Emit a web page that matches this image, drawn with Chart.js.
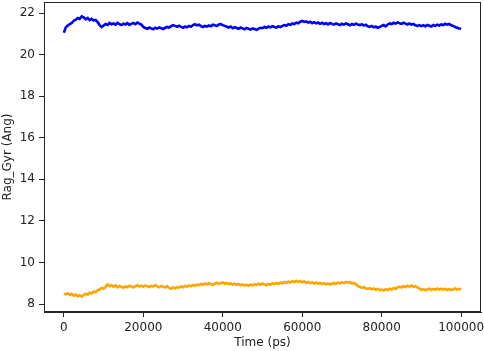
<!DOCTYPE html>
<html>
<head>
<meta charset="utf-8">
<script src="https://cdn.jsdelivr.net/npm/chart.js@4/dist/chart.umd.min.js"></script>
<style>
html,body{margin:0;padding:0;background:#fff;}
#wrap{width:484px;height:351px;position:relative;}
</style>
</head>
<body>
<div id="wrap"><canvas id="c" width="484" height="351"></canvas></div>
<script>
// Sampling: one value every TIME_STEP ps, starting at 0
const TIME_START = 0;
const TIME_STEP = 500;

// Upper trace (blue), Rag_Gyr in Angstrom
const blueSeries = [
  21.05,21.32,21.40,21.47,21.52,21.63,21.68,21.76,21.72,21.84,
  21.79,21.70,21.76,21.66,21.72,21.64,21.67,21.56,21.42,21.33,
  21.40,21.47,21.43,21.52,21.46,21.50,21.44,21.53,21.47,21.42,
  21.49,21.45,21.51,21.43,21.48,21.52,21.46,21.54,21.49,21.44,
  21.33,21.28,21.24,21.30,21.26,21.22,21.29,21.25,21.31,21.27,
  21.23,21.29,21.33,21.30,21.37,21.42,21.38,21.34,21.39,21.33,
  21.29,21.35,21.31,21.38,21.34,21.42,21.46,21.41,21.44,21.37,
  21.33,21.38,21.35,21.40,21.36,21.44,21.41,21.37,21.45,21.47,
  21.42,21.38,21.34,21.30,21.35,21.27,21.32,21.28,21.24,21.30,
  21.26,21.22,21.28,21.24,21.20,21.26,21.23,21.19,21.25,21.29,
  21.27,21.33,21.29,21.35,21.31,21.37,21.33,21.30,21.36,21.32,
  21.38,21.42,21.39,21.46,21.43,21.50,21.47,21.54,21.51,21.58,
  21.62,21.57,21.60,21.54,21.58,21.51,21.56,21.50,21.54,21.48,
  21.53,21.47,21.51,21.45,21.52,21.48,21.44,21.50,21.46,21.42,
  21.48,21.44,21.50,21.46,21.41,21.47,21.43,21.49,21.45,21.42,
  21.46,21.40,21.44,21.36,21.33,21.38,21.31,21.35,21.29,21.33,
  21.38,21.42,21.36,21.45,21.50,21.47,21.53,21.49,21.55,21.51,
  21.48,21.53,21.49,21.45,21.50,21.44,21.47,21.41,21.38,21.42,
  21.37,21.41,21.36,21.43,21.39,21.35,21.42,21.38,21.44,21.40,
  21.45,21.42,21.48,21.44,21.47,21.41,21.38,21.33,21.29,21.26,
  21.24
];

// Lower trace (orange)
const orangeSeries = [
  8.50,8.47,8.52,8.44,8.49,8.41,8.46,8.38,8.43,8.36,
  8.44,8.49,8.45,8.55,8.51,8.60,8.57,8.66,8.70,8.78,
  8.74,8.83,8.95,8.86,8.91,8.84,8.90,8.81,8.87,8.83,
  8.79,8.85,8.81,8.88,8.84,8.80,8.86,8.91,8.85,8.89,
  8.84,8.90,8.86,8.82,8.88,8.84,8.91,8.85,8.81,8.87,
  8.83,8.80,8.86,8.78,8.74,8.80,8.76,8.82,8.79,8.85,
  8.81,8.87,8.84,8.90,8.86,8.92,8.88,8.94,8.91,8.97,
  8.93,8.99,8.95,9.01,8.96,8.92,8.98,9.03,8.97,9.00,
  9.04,8.98,9.02,8.96,9.00,8.94,8.99,8.93,8.97,8.91,
  8.95,8.89,8.93,8.88,8.94,8.90,8.96,8.92,8.98,8.94,
  8.99,8.95,8.91,8.97,8.93,9.00,8.96,9.02,8.97,9.04,
  9.00,9.06,9.02,9.08,9.04,9.10,9.06,9.12,9.07,9.11,
  9.05,9.09,9.03,9.07,9.01,9.05,8.99,9.04,8.98,9.02,
  8.97,9.01,8.95,8.99,8.94,8.98,9.02,8.97,9.03,9.00,
  9.05,9.01,9.07,9.03,9.06,8.99,9.02,8.95,8.88,8.83,
  8.78,8.82,8.76,8.73,8.77,8.71,8.75,8.69,8.73,8.67,
  8.70,8.66,8.72,8.68,8.74,8.70,8.77,8.73,8.80,8.84,
  8.80,8.86,8.82,8.88,8.84,8.89,8.83,8.86,8.80,8.75,
  8.68,8.72,8.66,8.70,8.74,8.68,8.73,8.69,8.75,8.70,
  8.74,8.69,8.73,8.68,8.72,8.67,8.71,8.75,8.70,8.73,
  8.71
];

const xTicks = [0, 20000, 40000, 60000, 80000, 100000];
const yTicks = [8, 10, 12, 14, 16, 18, 20, 22];
const xTitle = 'Time (ps)';
const yTitle = 'Rag_Gyr (Ang)';

const times = blueSeries.map((_, i) => TIME_START + i * TIME_STEP);
const toPoints = arr => arr.map((v, i) => ({x: times[i], y: v}));

const frame = {
  id: 'frame',
  afterDatasetsDraw(chart) {
    const {ctx, chartArea: a} = chart;
    ctx.save();
    ctx.strokeStyle = '#262626';
    ctx.lineWidth = 1;
    ctx.strokeRect(Math.round(a.left) + 0.5, Math.round(a.top) + 0.5,
                   Math.round(a.right - a.left) - 1, Math.round(a.bottom - a.top) - 1);
    ctx.restore();
  }
};

const font = {family: 'DejaVu Sans', size: 12};

new Chart(document.getElementById('c'), {
  type: 'line',
  data: {
    datasets: [
      {data: toPoints(blueSeries), borderColor: '#0000ff', borderWidth: 2.6, pointRadius: 0, tension: 0, fill: false},
      {data: toPoints(orangeSeries), borderColor: '#ffa500', borderWidth: 2.6, pointRadius: 0, tension: 0, fill: false}
    ]
  },
  options: {
    responsive: false,
    animation: false,
    events: [],
    layout: {padding: {top: 2, right: 3, left: 0, bottom: 0}},
    plugins: {legend: {display: false}, tooltip: {enabled: false}},
    scales: {
      x: {
        type: 'linear',
        min: -5000, max: 105000,
        afterBuildTicks: s => { s.ticks = xTicks.map(v => ({value: v})); },
        afterFit: s => { s.height = 39; s.paddingLeft = 0; s.paddingRight = 0; },
        grid: {drawOnChartArea: false, drawTicks: true, tickLength: 5, color: '#262626'},
        border: {display: true, color: '#262626'},
        ticks: {font, color: '#222', padding: 4, maxRotation: 0, callback: v => String(v)},
        title: {display: true, text: xTitle, font, color: '#222', padding: {top: 0, bottom: 1}}
      },
      y: {
        type: 'linear',
        min: 7.62, max: 22.53,
        afterBuildTicks: s => { s.ticks = yTicks.map(v => ({value: v})); },
        afterFit: s => { s.width = 44; s.paddingTop = 0; s.paddingBottom = 0; },
        grid: {drawOnChartArea: false, drawTicks: true, tickLength: 5, color: '#262626'},
        border: {display: true, color: '#262626'},
        ticks: {font, color: '#222', padding: 4, callback: v => String(v)},
        title: {display: true, text: yTitle, font, color: '#222', padding: {top: 1, bottom: 0}}
      }
    }
  },
  plugins: [frame]
});
</script>
</body>
</html>
